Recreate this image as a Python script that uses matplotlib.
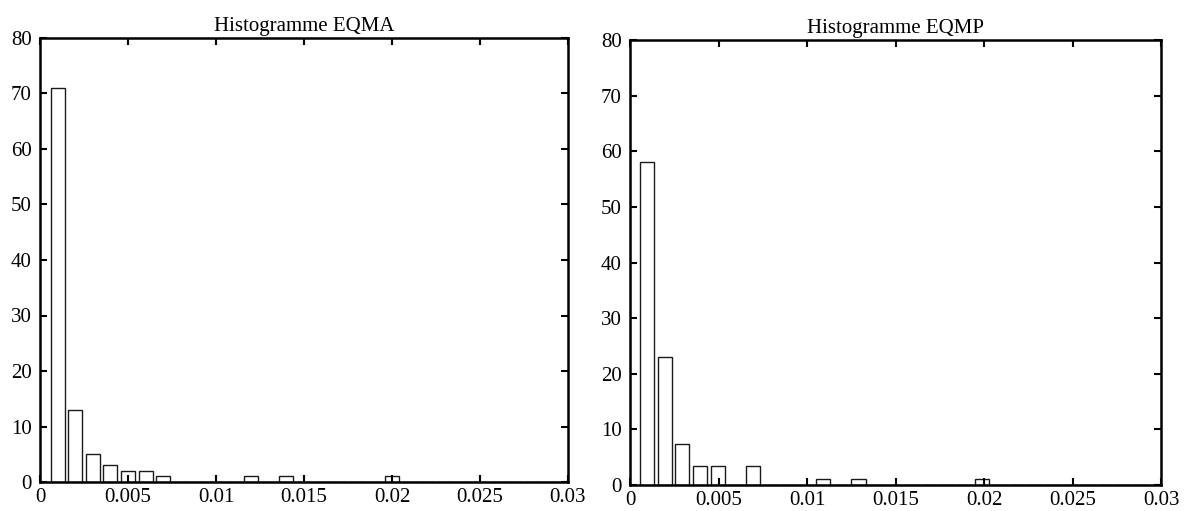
import numpy as np
import matplotlib
matplotlib.use("Agg")
import matplotlib.pyplot as plt

# bin centres of the two histograms (29 bins each)
centers_a = np.linspace(0.001, 0.029, 29)
centers_p = np.linspace(0.00097, 0.00097 + 28 * 0.000995, 29)

# bar heights
eqma = [71, 13, 5, 3, 2, 2, 1, 0, 0, 0, 0, 1, 0, 1, 0,
        0, 0, 0, 0, 1, 0, 0, 0, 0, 0, 0, 0, 0, 0]
eqmp = [58, 23.1, 7.3, 3.5, 3.5, 0, 3.5, 0, 0, 0, 1.1, 0, 1.1, 0, 0,
        0, 0, 0, 0, 1.1, 0, 0, 0, 0, 0, 0, 0, 0, 0]

titles = ["Histogramme EQMA", "Histogramme EQMP"]
xticks = [0, 0.005, 0.01, 0.015, 0.02, 0.025, 0.03]
xticklabels = ["0", "0.005", "0.01", "0.015", "0.02", "0.025", "0.03"]
yticks = [0, 10, 20, 30, 40, 50, 60, 70, 80]

plt.rcParams["font.family"] = ["Liberation Serif", "DejaVu Serif"]

fig = plt.figure(figsize=(11.84, 5.11), dpi=100)
ax1 = fig.add_axes([40 / 1184, 1 - 482 / 511, 528 / 1184, 444 / 511])
ax2 = fig.add_axes([630 / 1184, 1 - 485 / 511, 531 / 1184, 445 / 511])

for ax, cen, vals, ttl in [(ax1, centers_a, eqma, titles[0]),
                           (ax2, centers_p, eqmp, titles[1])]:
    w = (cen[1] - cen[0]) * 0.8
    ax.bar(cen, vals, width=w, color="white", edgecolor="#1a1a1a",
           linewidth=1.0, zorder=1)
    ax.set_xlim(0, 0.03)
    ax.set_ylim(0, 80)
    ax.set_xticks(xticks)
    ax.set_xticklabels(xticklabels)
    ax.set_yticks(yticks)
    ax.tick_params(direction="in", top=True, right=True, length=5,
                   width=1.5, labelsize=15)
    ax.tick_params(axis="y", pad=6)
    ax.tick_params(axis="x", pad=4)
    for s in ax.spines.values():
        s.set_linewidth(1.8)
    ax.set_title(ttl, fontsize=15, pad=5)

fig.savefig("out.png", dpi=100)
